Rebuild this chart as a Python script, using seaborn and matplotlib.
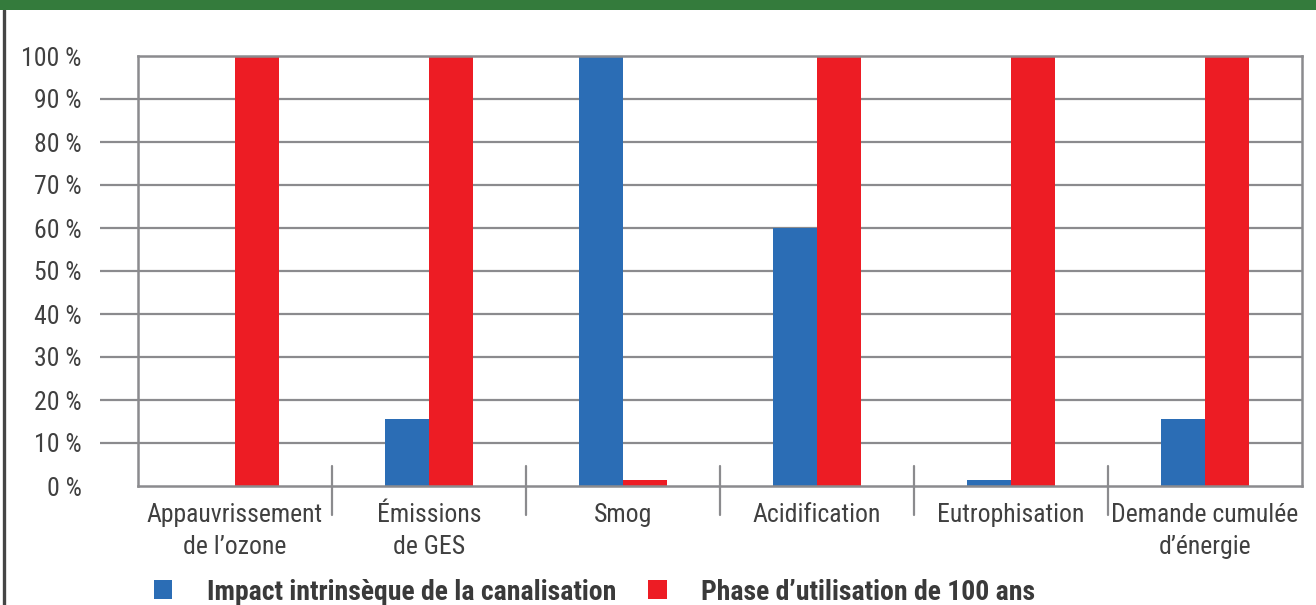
import matplotlib
matplotlib.use("Agg")
import matplotlib.pyplot as plt
from matplotlib.patches import Rectangle, Patch
from matplotlib.lines import Line2D
from matplotlib import font_manager
import seaborn as sns
import pandas as pd

# Data
categories = [
    "Appauvrissement\nde l\u2019ozone",
    "\u00c9missions\nde GES",
    "Smog",
    "Acidification",
    "Eutrophisation",
    "Demande cumul\u00e9e\nd\u2019\u00e9nergie",
]
series_names = ["Impact intrins\u00e8que de la canalisation",
                "Phase d\u2019utilisation de 100 ans"]
intrinsic = [0, 15.5, 100, 60, 1.5, 15.5]
use_phase = [100, 100, 1.5, 100, 100, 100]
y_ticks = [0, 10, 20, 30, 40, 50, 60, 70, 80, 90, 100]
y_tick_labels = [f"{v} %" for v in y_ticks]

colors = ["#2b6db5", "#ed1c24"]
grid_gray = "#8b8b8e"
text_gray = "#404040"

sns.set_theme(style="white")
installed = {f.name for f in font_manager.fontManager.ttflist}
narrow = [n for n in ["Roboto Condensed", "Liberation Sans Narrow", "Open Sans Condensed"]
          if n in installed]
plt.rcParams["font.family"] = narrow + ["Roboto", "DejaVu Sans"]
condensed = bool(narrow)

lab_size = 18.5 if condensed else 16.8
tick_size = 18.5 if condensed else 18
leg_size = 20 if condensed else 18

df = pd.DataFrame({
    "categorie": categories * 2,
    "serie": [series_names[0]] * len(categories) + [series_names[1]] * len(categories),
    "valeur": intrinsic + use_phase,
})

W, H = 1316, 605
fig = plt.figure(figsize=(W / 100, H / 100), dpi=100)
fig.patch.set_facecolor("white")

x0, x1, y_top, y_bot = 138, 1302, 56, 486
ax = fig.add_axes([x0 / W, (H - y_bot) / H, (x1 - x0) / W, (y_bot - y_top) / H])

sns.barplot(data=df, x="categorie", y="valeur", hue="serie", order=categories,
            hue_order=series_names, palette=colors, width=0.45, gap=0,
            saturation=1, ax=ax, legend=False, edgecolor="none", linewidth=0)

ax.set_xlim(-0.5, len(categories) - 0.5)
ax.set_ylim(0, 100)
ax.set_xlabel("")
ax.set_ylabel("")

# Horizontal gridlines
for v in y_ticks[1:-1]:
    ax.axhline(v, color=grid_gray, lw=1.6, zorder=0.5)

for s in ax.spines.values():
    s.set_visible(True)
    s.set_color(grid_gray)
    s.set_linewidth(1.8)

# Y axis: outward ticks only on inner gridlines
ax.set_yticks(y_ticks)
ax.set_yticklabels(y_tick_labels, fontsize=tick_size, color=text_gray)
ax.tick_params(axis="y", direction="out", length=27.5, width=1.6, color=grid_gray, pad=13, left=True)
yt = ax.yaxis.get_major_ticks()
yt[0].tick1line.set_visible(False)
yt[-1].tick1line.set_visible(False)

# X axis: category labels
ax.set_xticks(range(len(categories)))
ax.set_xticklabels(categories, fontsize=lab_size, color=text_gray, linespacing=1.45)
ax.tick_params(axis="x", which="major", length=0, pad=12, bottom=True)

# Separators between categories, crossing the baseline (more below than above)
axis_h_px = y_bot - y_top
up, down = 20 / axis_h_px, 29 / axis_h_px
for i in range(len(categories) - 1):
    ax.add_line(Line2D([i + 0.5, i + 0.5], [-down, up], transform=ax.get_xaxis_transform(),
                       color=grid_gray, lw=1.6, clip_on=False, zorder=3))

# Frame decorations
fig.patches.append(Rectangle((0, 1 - 10 / H), 1, 10 / H, transform=fig.transFigure,
                             facecolor="#347b3c", edgecolor="none", zorder=5))
fig.add_artist(Line2D([3.5 / W, 3.5 / W], [0, 1 - 10 / H], transform=fig.transFigure,
                      color="#454545", lw=2.4))

# Legend
handles = [Patch(facecolor=c, edgecolor="none") for c in colors]
leg = fig.legend(handles, series_names, loc="center left",
                 bbox_to_anchor=(154 / W, 13 / H), ncol=2, frameon=False,
                 prop={"size": leg_size, "weight": "heavy"},
                 handlelength=0.66, handleheight=0.66, handletextpad=1.25,
                 columnspacing=1.15, borderpad=0, borderaxespad=0)
for t in leg.get_texts():
    t.set_color("#3a3a3a")

fig.savefig("out.png", dpi=100, facecolor="white")
